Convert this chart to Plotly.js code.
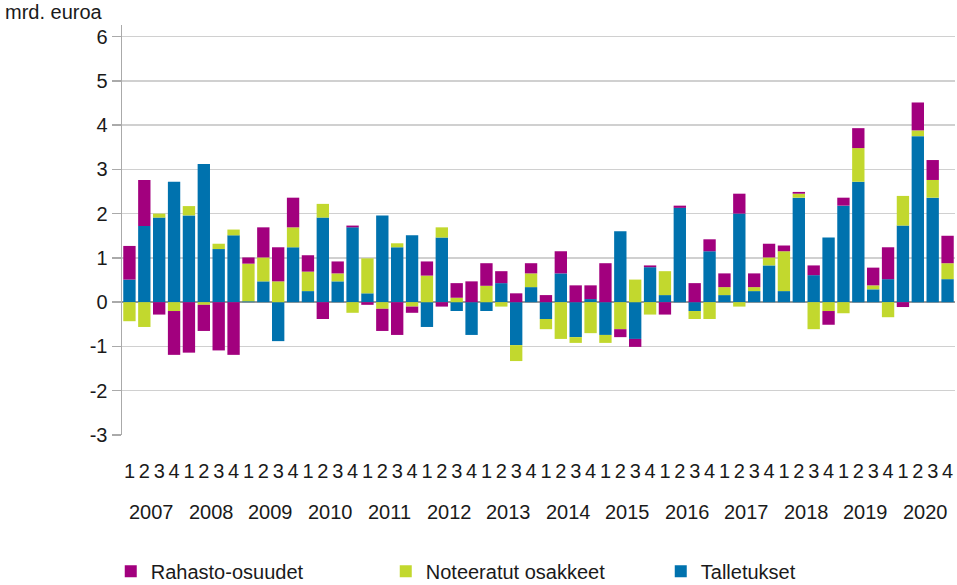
<!DOCTYPE html>
<html>
<head>
<meta charset="utf-8">
<script src="https://cdn.plot.ly/plotly-3.0.1.min.js"></script>
<style>html,body{margin:0;padding:0;background:#fff;}#chart{width:957px;height:585px;}</style>
</head>
<body>
<div id="chart"></div>
<script>
var years = ["2007","2008","2009","2010","2011","2012","2013","2014","2015","2016","2017","2018","2019","2020"];
var quarters = ["1","2","3","4"];

var talletukset = [
  0.51, 1.72, 1.91, 2.72,
  1.96, 3.12, 1.20, 1.51,
  0.02, 0.47, -0.88, 1.24,
  0.25, 1.91, 0.47, 1.69,
  0.20, 1.96, 1.24, 1.51,
  -0.56, 1.46, -0.20, -0.74,
  -0.20, 0.43, -0.97, 0.34,
  -0.38, 0.65, -0.79, 0.07,
  -0.74, 1.60, -0.83, 0.79,
  0.16, 2.13, -0.20, 1.15,
  0.16, 2.00, 0.25, 0.83,
  0.25, 2.36, 0.61, 1.46,
  2.18, 2.72, 0.29, 0.52,
  1.73, 3.75, 2.36, 0.52
];
var noteeratut = [
  -0.43, -0.56, 0.09, -0.20,
  0.21, -0.06, 0.12, 0.13,
  0.85, 0.54, 0.47, 0.45,
  0.44, 0.31, 0.18, -0.24,
  0.79, -0.15, 0.09, -0.10,
  0.60, 0.23, 0.10, 0.00,
  0.37, -0.10, -0.36, 0.31,
  -0.23, -0.83, -0.13, -0.70,
  -0.18, -0.61, 0.51, -0.28,
  0.54, 0.00, -0.18, -0.38,
  0.18, -0.10, 0.09, 0.18,
  0.90, 0.09, -0.61, -0.20,
  -0.25, 0.76, 0.09, -0.34,
  0.67, 0.13, 0.40, 0.36
];
var rahasto = [
  0.76, 1.04, -0.28, -0.99,
  -1.14, -0.59, -1.09, -1.19,
  0.14, 0.68, 0.77, 0.67,
  0.37, -0.38, 0.27, 0.04,
  -0.06, -0.50, -0.74, -0.14,
  0.32, -0.10, 0.33, 0.47,
  0.51, 0.27, 0.20, 0.23,
  0.16, 0.50, 0.38, 0.31,
  0.88, -0.18, -0.18, 0.04,
  -0.28, 0.05, 0.43, 0.27,
  0.31, 0.45, 0.31, 0.31,
  0.13, 0.04, 0.22, -0.31,
  0.18, 0.45, 0.40, 0.72,
  -0.11, 0.63, 0.45, 0.62
];
var yTicks = [-3,-2,-1,0,1,2,3,4,5,6];

var xs = [], qtext = [];
years.forEach(function(y, yi){
  quarters.forEach(function(q, qi){ xs.push(yi*4+qi); qtext.push(q); });
});

var FONT = "Liberation Sans, Arial, sans-serif";
var TXT = "#1a1a1a";

function tr(name, vals, color){
  return {type:"bar", name:name, x:xs, y:vals,
    marker:{color:color, line:{width:0}}, hoverinfo:"name+y"};
}
var data = [
  tr("Talletukset", talletukset, "#0072AE"),
  tr("Noteeratut osakkeet", noteeratut, "#C2D82E"),
  tr("Rahasto-osuudet", rahasto, "#A2007E")
];

var annotations = years.map(function(y, yi){
  return {text:y, x:yi*4+1.5, xref:"x", y:-0.188, yref:"paper",
    showarrow:false, xanchor:"center", yanchor:"middle",
    font:{family:FONT, size:20, color:TXT}};
});
annotations.push({text:"mrd. euroa", x:-0.1429, xref:"paper", xanchor:"left",
  y:1.0, yref:"paper", yanchor:"bottom", showarrow:false,
  font:{family:FONT, size:20, color:TXT}});

var layout = {
  width:957, height:585,
  margin:{l:122, r:2, t:25, b:150, autoexpand:false},
  paper_bgcolor:"#fff", plot_bgcolor:"#fff",
  barmode:"relative", bargap:0.17,
  showlegend:true,
  legend:{orientation:"h", traceorder:"reversed", x:-0.0135, xanchor:"left",
    y:-0.285, yanchor:"top", entrywidth:230, entrywidthmode:"pixels",
    font:{family:FONT, size:20, color:TXT}},
  xaxis:{range:[-0.5, 55.5], tickmode:"array", tickvals:xs, ticktext:qtext,
    showgrid:false, zeroline:false, showline:false, ticks:"",
    ticklabelstandoff:22, automargin:false,
    tickfont:{family:FONT, size:20, color:TXT}, fixedrange:true},
  yaxis:{range:[-3, 6.26], tickmode:"array", tickvals:yTicks,
    ticktext:yTicks.map(String), automargin:false,
    showgrid:true, gridcolor:"#d0d0d0", gridwidth:1.5,
    zeroline:true, zerolinecolor:"#999", zerolinewidth:1.5,
    showline:true, linecolor:"#aaa", linewidth:1.5,
    ticks:"outside", ticklen:9, tickcolor:"#aaa", tickwidth:1.5,
    tickfont:{family:FONT, size:20, color:TXT}, fixedrange:true},
  annotations:annotations
};
Plotly.newPlot("chart", data, layout, {displayModeBar:false, staticPlot:true});
</script>
</body>
</html>
